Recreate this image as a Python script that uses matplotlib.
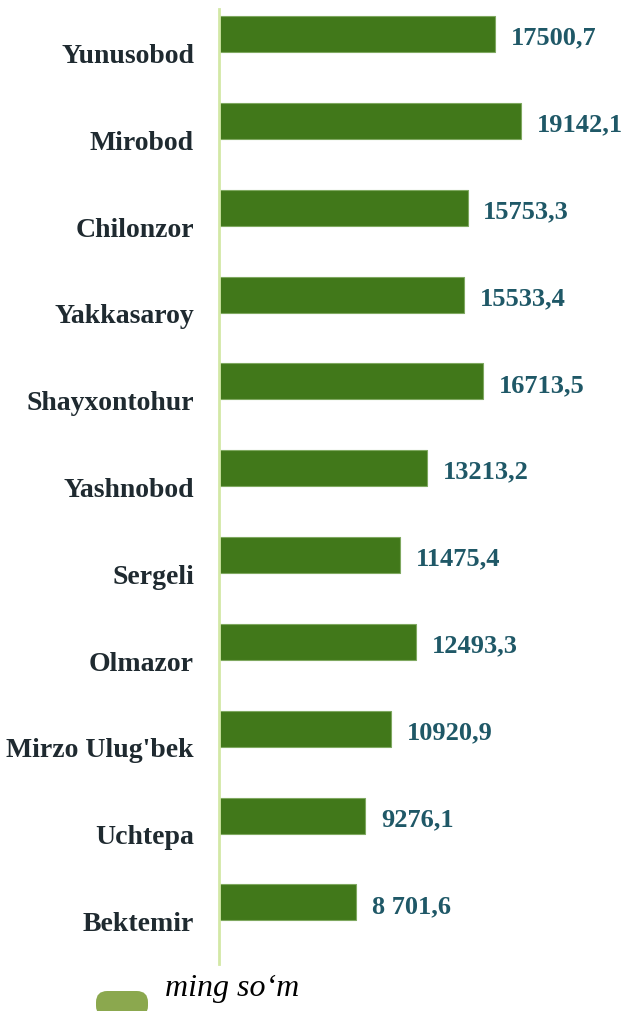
import matplotlib
matplotlib.use("Agg")
import matplotlib.pyplot as plt
from matplotlib.patches import FancyBboxPatch

districts = ["Yunusobod", "Mirobod", "Chilonzor", "Yakkasaroy", "Shayxontohur",
             "Yashnobod", "Sergeli", "Olmazor", "Mirzo Ulug'bek", "Uchtepa", "Bektemir"]
values = [17500.7, 19142.1, 15753.3, 15533.4, 16713.5, 13213.2, 11475.4,
          12493.3, 10920.9, 9276.1, 8701.6]
value_labels = ["17500,7", "19142,1", "15753,3", "15533,4", "16713,5", "13213,2",
                "11475,4", "12493,3", "10920,9", "9276,1", "8 701,6"]
legend_label = "ming so\u2018m"

plt.rcParams['font.family'] = ['Liberation Serif', 'DejaVu Serif']

W, H = 625, 1012
fig = plt.figure(figsize=(W / 100, H / 100), dpi=100)
ax = fig.add_axes([219 / W, 1 - 965 / H, 1 - 219 / W, (965 - 10) / H])

ypos = list(range(len(districts)))
offset = -0.21
ax.barh([y + offset for y in ypos], values, height=0.415, color="#41781A",
        edgecolor="#7FA860", linewidth=0.8)

for y, v, lab in zip(ypos, values, value_labels):
    ax.text(v + 1000, y + offset + 0.035, lab, va="center", ha="left", fontsize=19,
            fontweight="bold", color="#1F5867")

ax.set_ylim(len(districts) - 0.5, -0.5)
ax.set_xlim(0, 25730)
ax.set_yticks(ypos)
ax.set_yticklabels(districts, fontsize=20, fontweight="bold", color="#1F2A30")
ax.tick_params(axis="y", length=0, pad=18)
ax.set_xticks([])
for s in ["top", "right", "bottom"]:
    ax.spines[s].set_visible(False)
ax.spines["left"].set_color("#D3E8A6")
ax.spines["left"].set_linewidth(2)

# legend
patch = FancyBboxPatch((96 / W, 1 - 1018 / H), 52 / W, 26 / H,
                       boxstyle="round,pad=0,rounding_size=0.018",
                       transform=fig.transFigure, facecolor="#8BA84E",
                       edgecolor="none", mutation_aspect=W / H)
fig.patches.append(patch)
fig.text(165 / W, 1 - 989 / H, legend_label, fontsize=23, style="italic",
         color="black", va="center", ha="left")

fig.savefig("out.png", dpi=100)
